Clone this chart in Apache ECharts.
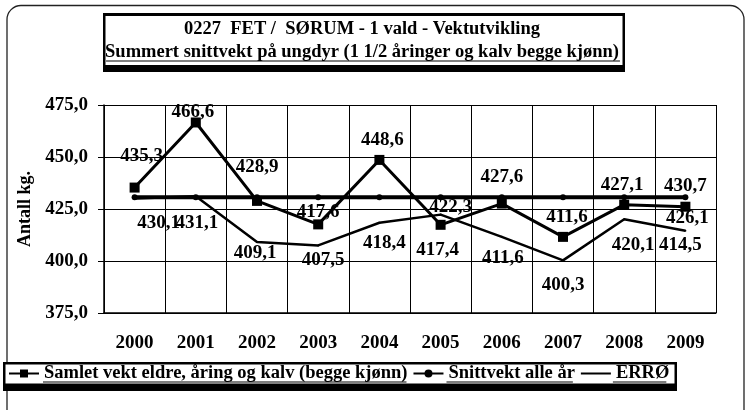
<!DOCTYPE html>
<html>
<head>
<meta charset="utf-8">
<script src="https://cdn.jsdelivr.net/npm/echarts@6/dist/echarts.min.js"></script>
<style>
html,body{margin:0;padding:0;background:#fff;}
#c{width:746px;height:410px;}
</style>
</head>
<body>
<div id="c"></div>
<script>
// ---- data ----
const years = ['2000','2001','2002','2003','2004','2005','2006','2007','2008','2009'];
const samlet = [435.3, 466.6, 428.9, 417.6, 448.6, 417.4, 427.6, 411.6, 427.1, 426.1];
const snitt = [430.7, 430.7, 430.7, 430.7, 430.7, 430.7, 430.7, 430.7, 430.7, 430.7];
const erro = [430.1, 431.1, 409.1, 407.5, 418.4, 422.3, 411.6, 400.3, 420.1, 414.5];
const yMin = 375, yMax = 475, yStep = 25;
const seriesNames = ['Samlet vekt eldre, åring og kalv (begge kjønn)', 'Snittvekt alle år', 'ERRØ'];
const titleLine1 = '0227  FET /  SØRUM - 1 vald - Vektutvikling';
const titleLine2 = 'Summert snittvekt på ungdyr (1 1/2 åringer og kalv begge kjønn)';

// ---- label placement (styling) ----
const samletLabelOffset = [[7,-31],[-3,-10],[0,-34],[0,-12],[3,-20],[-3,25],[0,-26],[4,-20],[-2,-20],[2,11]];
const erroLabelOffset = [[24,25],[1,27],[-2,11],[5,15],[5,20],[10,-8],[1,21],[0,25],[9,26],[-5,14]];
const snittLabelShow = [false,false,false,false,false,false,false,false,false,true];

const FONT = '"Liberation Serif", "Times New Roman", serif';
const fmt = v => v.toFixed(1).replace('.', ',');
const lblStyle = {color:'#000', fontFamily: FONT, fontWeight:'bold', fontSize:19};

function withLabels(vals, offs) {
  return vals.map((v,i) => ({value:v, label:{show:true, position:'inside', offset:offs[i], formatter: p => fmt(p.value), ...lblStyle}}));
}

const chart = echarts.init(document.getElementById('c'), null, {renderer:'canvas'});

// measure text for underlines
const cv = document.createElement('canvas').getContext('2d');
function tw(t, size){ cv.font = 'bold ' + size + 'px "Liberation Serif"'; return cv.measureText(t).width; }

const legendFont = 18.5, legendLeft = 8, legendItemW = 30, legendGap = 5, legendTextY = 382;
const titleFont = 18.5;
const underlines = [];
let lx = legendLeft;
seriesNames.forEach(n => {
  const tx = lx + legendItemW + 5;
  const w = tw(n, legendFont);
  underlines.push({type:'line', shape:{x1:tx, y1:legendTextY, x2:tx+w, y2:legendTextY}, style:{stroke:'#000', lineWidth:1.2}, z:10});
  lx = tx + w + legendGap;
});
const t2w = tw(titleLine2, titleFont);
underlines.push({type:'line', shape:{x1:363 - t2w/2, y1:61, x2:363 + t2w/2, y2:61}, style:{stroke:'#000', lineWidth:1.2}, z:10});

const option = {
  backgroundColor:'#fff',
  animation:false,
  title:{
    text:titleLine1,
    subtext:titleLine2,
    left:362, top:20, textAlign:'center', itemGap:4, padding:0,
    textStyle:{fontFamily:FONT, fontWeight:'bold', fontSize:titleFont, color:'#000'},
    subtextStyle:{fontFamily:FONT, fontWeight:'bold', fontSize:titleFont, color:'#000'}
  },
  legend:{
    data: [
      {name: seriesNames[0]},
      {name: seriesNames[1]},
      {name: seriesNames[2], itemStyle:{opacity:0}}
    ],
    left: legendLeft, top: 364, padding:0,
    itemWidth: legendItemW, itemHeight: 10, itemGap: legendGap,
    textStyle:{fontFamily:FONT, fontWeight:'bold', fontSize:legendFont, color:'#000', padding:[0,0,0,0]},
    selectedMode:false
  },
  grid:{left:104, right:30, top:105, bottom:97, containLabel:false},
  xAxis:{
    type:'category', data:years, boundaryGap:true,
    axisLine:{lineStyle:{color:'#000', width:1.5}},
    axisTick:{show:false},
    splitLine:{show:true, lineStyle:{color:'#000', width:1}},
    axisLabel:{color:'#000', fontFamily:FONT, fontWeight:'bold', fontSize:19, margin:21}
  },
  yAxis:{
    type:'value', min:yMin, max:yMax, interval:yStep,
    name:'Antall kg.', nameLocation:'middle', nameRotate:90, nameGap:66,
    nameTextStyle:{color:'#000', fontFamily:FONT, fontWeight:'bold', fontSize:18},
    axisLine:{show:true, lineStyle:{color:'#000', width:1.5}},
    axisTick:{show:true, length:6, lineStyle:{color:'#000'}},
    splitLine:{show:true, lineStyle:{color:'#000', width:1}},
    axisLabel:{color:'#000', fontFamily:FONT, fontWeight:'bold', fontSize:19, margin:16, formatter: v => fmt(v)}
  },
  graphic:[
    // outer frame
    {type:'rect', shape:{x:7, y:5.5, width:737, height:420, r:14}, style:{fill:null, stroke:'#222', lineWidth:1.3}, z:0},
    // title box
    {type:'rect', shape:{x:103, y:13, width:522, height:59}, style:{fill:'#000'}, z:0},
    {type:'rect', shape:{x:105.5, y:16, width:517, height:49}, style:{fill:'#fff'}, z:1},
    // legend box
    {type:'rect', shape:{x:3, y:362, width:674, height:29}, style:{fill:'#000'}, z:0},
    {type:'rect', shape:{x:5.5, y:364.5, width:669, height:19}, style:{fill:'#fff'}, z:1},
    ...underlines
  ],
  series:[
    {
      name:seriesNames[2], type:'line', data: withLabels(erro, erroLabelOffset),
      symbol:'circle', symbolSize:2, showSymbol:true,
      lineStyle:{color:'#000', width:2.5}, itemStyle:{color:'#000'}, z:2
    },
    {
      name:seriesNames[1], type:'line',
      data: snitt.map((v,i)=>({value:v, label:{show:snittLabelShow[i], position:'inside', offset:[0,-11], formatter:p=>fmt(p.value), ...lblStyle}})),
      symbol:'circle', symbolSize:6,
      lineStyle:{color:'#000', width:4}, itemStyle:{color:'#000'}, z:3
    },
    {
      name:seriesNames[0], type:'line', data: withLabels(samlet, samletLabelOffset),
      symbol:'rect', symbolSize:10,
      lineStyle:{color:'#000', width:3}, itemStyle:{color:'#000'}, z:4
    }
  ]
};
chart.setOption(option);
</script>
</body>
</html>
